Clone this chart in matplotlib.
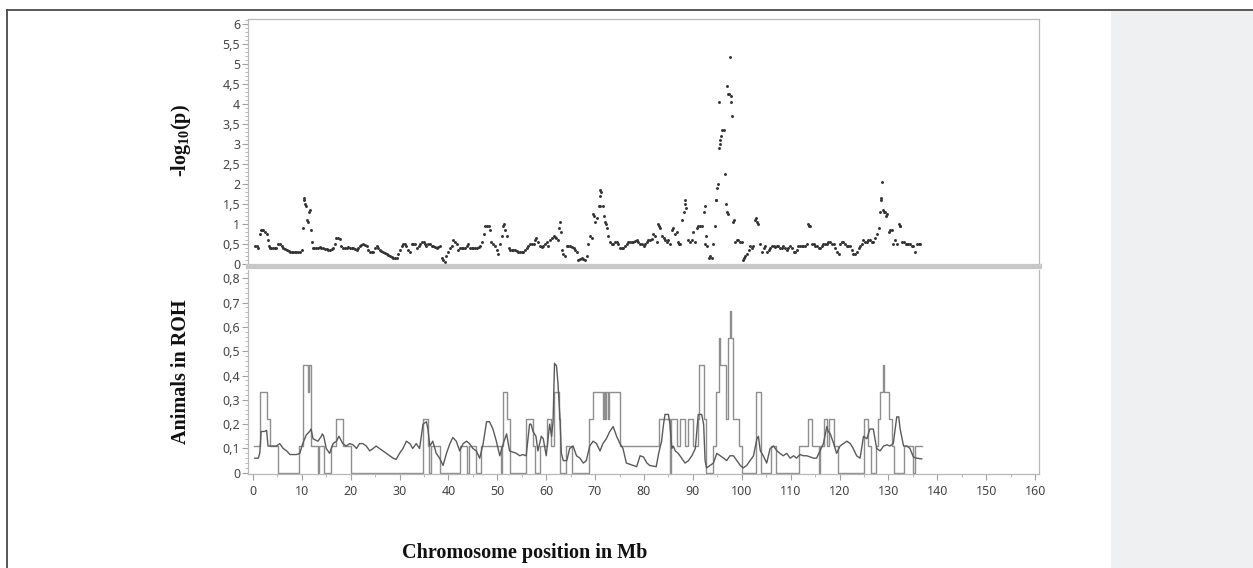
import matplotlib
matplotlib.use('Agg')
import matplotlib.pyplot as plt
from matplotlib.ticker import MultipleLocator, FuncFormatter
from matplotlib.lines import Line2D
from matplotlib.patches import Rectangle

plt.rcParams['mathtext.fontset'] = 'custom'
plt.rcParams['mathtext.rm'] = 'Liberation Serif:bold'
plt.rcParams['mathtext.it'] = 'Liberation Serif:bold'
plt.rcParams['mathtext.bf'] = 'Liberation Serif:bold'

# ---------------- data ----------------
gwas_pos = [
    0.4, 0.8, 1.1, 1.4, 1.6, 1.8, 2.1, 2.5, 2.8, 3.0,
    3.3, 3.5, 3.8, 4.2, 4.5, 4.8, 5.2, 5.5, 5.9, 6.2,
    6.6, 6.9, 7.3, 7.6, 8.0, 8.3, 8.6, 8.9, 9.3, 9.6,
    10.0, 10.2, 10.4, 10.5, 10.6, 10.8, 11.0, 11.3, 11.5, 11.7,
    11.9, 12.0, 12.3, 12.6, 13.0, 13.3, 13.7, 14.0, 14.4, 14.7,
    15.1, 15.4, 15.8, 16.1, 16.4, 16.8, 17.1, 17.4, 17.8, 18.1,
    18.5, 18.8, 19.2, 19.5, 19.9, 20.2, 20.5, 20.9, 21.2, 21.5,
    21.9, 22.2, 22.6, 22.9, 23.3, 23.6, 23.9, 24.3, 24.6, 24.9,
    25.3, 25.6, 26.0, 26.3, 26.7, 27.0, 27.4, 27.7, 28.0, 28.4,
    28.7, 29.0, 29.4, 29.7, 30.1, 30.4, 30.8, 31.1, 31.4, 31.8,
    32.1, 32.5, 32.8, 33.2, 33.5, 33.9, 34.2, 34.5, 34.9, 35.2,
    35.5, 35.9, 36.2, 36.6, 36.9, 37.2, 37.6, 37.9, 38.3, 38.6,
    38.9, 39.3, 39.6, 40.0, 40.3, 40.7, 41.0, 41.3, 41.7, 42.0,
    42.4, 42.7, 43.0, 43.4, 43.7, 44.1, 44.4, 44.8, 45.1, 45.5,
    45.8, 46.2, 46.5, 46.8, 47.3, 47.5, 47.9, 48.2, 48.5, 48.8,
    49.2, 49.5, 49.9, 50.2, 50.5, 50.9, 51.2, 51.4, 51.6, 51.9,
    52.3, 52.6, 53.0, 53.3, 53.6, 54.0, 54.3, 54.6, 55.0, 55.3,
    55.6, 56.0, 56.3, 56.7, 57.0, 57.4, 57.7, 58.0, 58.4, 58.7,
    59.1, 59.4, 59.8, 60.1, 60.4, 60.8, 61.1, 61.5, 61.8, 62.1,
    62.5, 62.7, 62.8, 63.0, 63.2, 63.5, 63.8, 64.2, 64.5, 64.9,
    65.2, 65.6, 65.9, 66.2, 66.6, 66.9, 67.3, 67.6, 67.9, 68.3,
    68.6, 69.0, 69.3, 69.6, 69.8, 70.0, 70.3, 70.7, 70.9, 71.0,
    71.1, 71.3, 71.6, 71.8, 72.0, 72.2, 72.4, 72.7, 73.1, 73.4,
    73.7, 74.0, 74.4, 74.7, 75.1, 75.4, 75.8, 76.1, 76.5, 76.8,
    77.1, 77.5, 77.8, 78.2, 78.5, 78.8, 79.2, 79.5, 79.9, 80.3,
    80.6, 80.9, 81.2, 81.6, 81.9, 82.3, 82.6, 82.9, 83.1, 83.3,
    83.7, 84.0, 84.4, 84.7, 85.0, 85.3, 85.7, 86.0, 86.4, 86.7,
    87.0, 87.2, 87.4, 87.7, 88.1, 88.3, 88.4, 88.6, 89.1, 89.4,
    89.8, 90.1, 90.5, 90.8, 91.1, 91.5, 91.8, 92.2, 92.4, 92.5,
    92.6, 92.8, 93.2, 93.5, 93.9, 94.2, 94.5, 94.7, 94.8, 95.0,
    95.1, 95.3, 95.4, 95.5, 95.6, 95.8, 96.0, 96.3, 96.6, 96.7,
    96.9, 97.0, 97.1, 97.2, 97.4, 97.6, 97.7, 97.9, 98.0, 98.3,
    98.4, 98.6, 99.0, 99.3, 99.7, 100.0, 100.3, 100.5, 100.7, 101.0,
    101.4, 101.7, 102.0, 102.4, 102.7, 102.9, 103.1, 103.4, 103.8, 104.1,
    104.5, 104.8, 105.1, 105.5, 105.8, 106.1, 106.5, 106.8, 107.2, 107.5,
    107.8, 108.2, 108.5, 108.9, 109.2, 109.5, 109.9, 110.2, 110.6, 110.9,
    111.2, 111.6, 111.9, 112.3, 112.6, 112.9, 113.3, 113.6, 113.8, 114.0,
    114.3, 114.7, 115.0, 115.3, 115.7, 116.0, 116.4, 116.7, 117.0, 117.4,
    117.7, 118.1, 118.4, 118.8, 119.1, 119.4, 119.8, 120.1, 120.5, 120.8,
    121.1, 121.5, 121.8, 122.2, 122.5, 122.8, 123.2, 123.5, 123.9, 124.2,
    124.5, 124.9, 125.2, 125.6, 125.9, 126.2, 126.6, 126.9, 127.3, 127.6,
    128.0, 128.2, 128.4, 128.5, 128.6, 128.9, 129.1, 129.3, 129.5, 129.8,
    130.2, 130.4, 130.7, 131.0, 131.4, 131.7, 132.1, 132.3, 132.4, 132.8,
    133.1, 133.5, 133.8, 134.1, 134.4, 134.8, 135.1, 135.5, 135.8, 136.2,
    136.5,
]
gwas_logp = [
    0.45, 0.45, 0.4, 0.75, 0.85, 0.85, 0.85, 0.8, 0.75, 0.6,
    0.45, 0.4, 0.4, 0.4, 0.4, 0.4, 0.5, 0.5, 0.45, 0.4,
    0.38, 0.35, 0.32, 0.3, 0.3, 0.3, 0.3, 0.3, 0.3, 0.3,
    0.35, 0.9, 1.6, 1.65, 1.5, 1.45, 1.1, 1.05, 1.3, 1.35,
    0.85, 0.55, 0.4, 0.4, 0.4, 0.4, 0.42, 0.4, 0.4, 0.38,
    0.38, 0.35, 0.35, 0.38, 0.4, 0.5, 0.65, 0.65, 0.62, 0.45,
    0.4, 0.4, 0.4, 0.42, 0.4, 0.4, 0.4, 0.37, 0.35, 0.4,
    0.45, 0.48, 0.5, 0.48, 0.45, 0.35, 0.3, 0.3, 0.3, 0.4,
    0.45, 0.4, 0.35, 0.32, 0.3, 0.28, 0.25, 0.22, 0.2, 0.18,
    0.15, 0.15, 0.15, 0.25, 0.35, 0.45, 0.5, 0.5, 0.45, 0.35,
    0.3, 0.5, 0.5, 0.5, 0.4, 0.45, 0.5, 0.55, 0.55, 0.5,
    0.45, 0.5, 0.5, 0.45, 0.45, 0.42, 0.4, 0.42, 0.45, 0.15,
    0.1, 0.05, 0.2, 0.3, 0.4, 0.45, 0.6, 0.55, 0.5, 0.35,
    0.4, 0.4, 0.4, 0.4, 0.45, 0.5, 0.4, 0.4, 0.4, 0.4,
    0.4, 0.42, 0.45, 0.55, 0.75, 0.95, 0.95, 0.95, 0.85, 0.55,
    0.5, 0.45, 0.35, 0.25, 0.5, 0.7, 0.95, 1.0, 0.85, 0.7,
    0.4, 0.35, 0.35, 0.35, 0.35, 0.32, 0.3, 0.3, 0.3, 0.3,
    0.35, 0.4, 0.45, 0.5, 0.5, 0.5, 0.6, 0.65, 0.55, 0.45,
    0.42, 0.45, 0.5, 0.55, 0.45, 0.6, 0.65, 0.7, 0.68, 0.65,
    0.6, 0.9, 1.05, 0.8, 0.35, 0.25, 0.2, 0.45, 0.45, 0.45,
    0.42, 0.4, 0.35, 0.3, 0.1, 0.12, 0.15, 0.12, 0.1, 0.2,
    0.5, 0.7, 0.65, 1.25, 1.2, 1.05, 1.15, 1.45, 1.45, 1.7,
    1.85, 1.8, 1.45, 1.2, 1.05, 1.0, 0.9, 0.7, 0.55, 0.5,
    0.5, 0.55, 0.55, 0.5, 0.4, 0.4, 0.4, 0.45, 0.5, 0.55,
    0.55, 0.55, 0.55, 0.58, 0.6, 0.55, 0.5, 0.5, 0.45, 0.5,
    0.55, 0.6, 0.6, 0.62, 0.75, 0.7, 0.55, 1.0, 0.95, 0.9,
    0.7, 0.65, 0.6, 0.55, 0.6, 0.5, 0.85, 0.9, 0.75, 0.8,
    0.55, 0.5, 0.5, 1.1, 1.3, 1.5, 1.6, 1.4, 0.6, 0.55,
    0.6, 0.8, 0.55, 0.9, 0.95, 0.95, 0.95, 1.3, 1.45, 0.5,
    0.7, 0.45, 0.15, 0.2, 0.15, 0.5, 0.95, 1.6, 1.6, 1.9,
    2.0, 4.05, 2.9, 3.0, 3.1, 3.2, 3.35, 3.35, 2.25, 1.5,
    4.45, 1.3, 1.25, 4.25, 4.25, 5.18, 4.2, 4.05, 3.7, 1.05,
    1.1, 0.55, 0.6, 0.6, 0.55, 0.55, 0.1, 0.15, 0.2, 0.25,
    0.35, 0.45, 0.4, 0.45, 1.1, 1.15, 1.05, 1.0, 0.5, 0.3,
    0.4, 0.45, 0.3, 0.35, 0.4, 0.45, 0.45, 0.42, 0.45, 0.45,
    0.4, 0.4, 0.45, 0.4, 0.35, 0.4, 0.45, 0.4, 0.3, 0.3,
    0.35, 0.45, 0.45, 0.45, 0.45, 0.45, 0.5, 1.0, 0.95, 0.95,
    0.5, 0.5, 0.45, 0.45, 0.4, 0.4, 0.45, 0.5, 0.5, 0.5,
    0.55, 0.55, 0.5, 0.5, 0.4, 0.3, 0.25, 0.5, 0.55, 0.55,
    0.5, 0.45, 0.45, 0.45, 0.35, 0.25, 0.25, 0.3, 0.4, 0.45,
    0.5, 0.6, 0.55, 0.55, 0.6, 0.6, 0.55, 0.55, 0.65, 0.75,
    0.9, 1.3, 1.65, 1.6, 2.05, 1.35, 1.3, 1.3, 1.2, 1.25,
    0.8, 0.85, 0.85, 0.5, 0.6, 0.5, 1.0, 0.95, 0.95, 0.55,
    0.55, 0.5, 0.5, 0.5, 0.5, 0.45, 0.45, 0.3, 0.5, 0.5,
    0.5,
]

# proportion of animals in ROH, population with step-wise values
roh_step_pos = [
    0.3, 1.5, 2.9, 3.4, 5.1, 9.5, 10.2, 11.2, 11.4, 11.9,
    13.3, 13.5, 14.5, 16.0, 17.1, 18.4, 20.1, 34.7, 35.9, 36.1,
    36.5, 38.3, 42.3, 43.8, 44.3, 45.7, 46.7, 50.7, 50.9, 51.2,
    52.0, 52.5, 55.9, 57.3, 57.8, 58.7, 60.2, 61.0, 61.5, 62.6,
    62.9, 64.1, 65.2, 68.7, 69.5, 71.6, 71.8, 72.1, 72.3, 72.6,
    72.9, 75.0, 83.1, 85.4, 85.6, 86.8, 87.3, 88.4, 89.0,
    90.1, 91.0, 91.3, 92.3, 92.7, 94.2, 94.7, 95.3, 95.5, 96.7,
    97.2, 97.6, 97.8, 98.3, 99.4, 100.0, 102.9, 103.9, 105.9, 107.1,
    111.8, 113.6, 114.3, 115.8, 116.0, 116.8, 117.4, 117.9, 118.9, 119.6,
    125.0, 125.9, 126.4, 127.5, 127.8, 128.3, 128.8, 129.1, 130.2, 130.7,
    131.2, 133.1, 135.1, 135.5, 136.8,
]
roh_step_val = [
    0.111, 0.333, 0.222, 0.111, 0.0, 0.111, 0.444, 0.333, 0.444, 0.111,
    0.0, 0.111, 0.0, 0.111, 0.222, 0.111, 0.0, 0.222, 0.111, 0.0,
    0.111, 0.0, 0.111, 0.0, 0.111, 0.0, 0.111, 0.0, 0.111, 0.333,
    0.222, 0.0, 0.222, 0.111, 0.0, 0.111, 0.222, 0.111, 0.333, 0.222,
    0.0, 0.111, 0.0, 0.222, 0.333, 0.222, 0.333, 0.222, 0.333, 0.222,
    0.333, 0.111, 0.222, 0.0, 0.222, 0.111, 0.222, 0.111, 0.222,
    0.111, 0.222, 0.444, 0.222, 0.0, 0.111, 0.333, 0.556, 0.444, 0.222,
    0.556, 0.667, 0.556, 0.222, 0.111, 0.0, 0.333, 0.0, 0.111, 0.0,
    0.111, 0.222, 0.111, 0.0, 0.111, 0.222, 0.111, 0.222, 0.111, 0.0,
    0.222, 0.111, 0.0, 0.111, 0.222, 0.333, 0.444, 0.333, 0.222, 0.111,
    0.0, 0.111, 0.0, 0.111, 0.111,
]

# proportion of animals in ROH, population with smooth values
roh_smooth_pos = [
    0.4, 1.1, 1.4, 1.7, 2.4, 2.8, 3.1, 4.1, 4.8, 5.5,
    6.2, 6.9, 7.6, 8.9, 9.6, 10.2, 10.9, 11.6, 11.9, 12.3,
    13.3, 14.0, 14.2, 14.5, 15.0, 15.7, 16.4, 17.1, 17.6, 18.4,
    19.1, 19.8, 20.5, 21.2, 21.8, 22.5, 23.2, 23.9, 24.6, 25.2,
    25.9, 26.6, 27.3, 28.0, 28.7, 29.3, 30.0, 30.7, 31.4, 32.1,
    32.7, 33.4, 34.1, 34.8, 35.5, 35.8, 36.2, 36.8, 37.5, 38.2,
    38.9, 39.6, 40.3, 40.9, 41.6, 42.3, 43.0, 43.7, 44.3, 45.0,
    45.7, 46.4, 47.1, 47.8, 48.4, 49.1, 49.8, 50.5, 51.2, 51.9,
    52.5, 53.2, 53.9, 54.6, 55.2, 55.9, 56.6, 56.9, 57.3, 57.9,
    58.3, 59.0, 59.4, 60.0, 60.7, 61.1, 61.4, 61.7, 62.1, 62.4,
    62.8, 63.1, 63.5, 64.2, 64.8, 65.5, 66.2, 66.9, 67.6, 68.2,
    68.9, 69.6, 70.3, 71.0, 71.6, 72.3, 73.0, 73.7, 74.4, 75.1,
    75.7, 76.4, 77.1, 77.8, 78.5, 79.2, 79.9, 80.6, 81.2, 82.5,
    83.0, 83.6, 84.0, 84.3, 85.0, 85.3, 85.7, 86.0, 86.4, 87.0,
    87.7, 88.4, 89.1, 89.8, 90.5, 91.1, 91.8, 92.2, 92.5, 92.8,
    93.5, 94.2, 94.9, 95.6, 96.3, 96.9, 97.6, 98.3, 99.0, 99.7,
    100.3, 101.0, 101.7, 102.4, 103.1, 103.4, 103.8, 104.4, 105.1, 105.8,
    106.5, 107.2, 107.8, 108.5, 109.2, 109.9, 110.6, 111.2, 111.9, 112.6,
    113.3, 114.0, 114.7, 115.3, 116.0, 116.7, 117.4, 117.7, 118.1, 118.8,
    119.4, 120.1, 120.8, 121.5, 122.2, 122.8, 123.5, 124.2, 124.9, 125.6,
    126.2, 126.9, 127.6, 128.3, 129.0, 129.7, 130.3, 131.0, 131.7, 132.1,
    132.4, 133.1, 133.8, 134.4, 135.1, 135.8, 136.8,
]
roh_smooth_val = [
    0.06, 0.06, 0.08, 0.17, 0.17, 0.175, 0.11, 0.11, 0.11, 0.12,
    0.10, 0.09, 0.075, 0.075, 0.08, 0.12, 0.155, 0.17, 0.18, 0.14,
    0.13, 0.15, 0.16, 0.15, 0.10, 0.08, 0.12, 0.13, 0.15, 0.12,
    0.11, 0.12, 0.115, 0.10, 0.12, 0.12, 0.11, 0.09, 0.10, 0.11,
    0.10, 0.09, 0.08, 0.07, 0.06, 0.055, 0.08, 0.10, 0.13, 0.12,
    0.10, 0.12, 0.10, 0.20, 0.21, 0.18, 0.11, 0.13, 0.08, 0.06,
    0.03, 0.08, 0.12, 0.145, 0.13, 0.09, 0.12, 0.13, 0.12, 0.10,
    0.09, 0.06, 0.12, 0.21, 0.21, 0.18, 0.13, 0.07, 0.12, 0.16,
    0.09, 0.085, 0.08, 0.07, 0.075, 0.07, 0.20, 0.20, 0.17, 0.15,
    0.09, 0.15, 0.14, 0.07, 0.20, 0.15, 0.21, 0.45, 0.44, 0.37,
    0.23, 0.08, 0.05, 0.05, 0.10, 0.11, 0.07, 0.06, 0.04, 0.05,
    0.11, 0.13, 0.12, 0.09, 0.12, 0.14, 0.17, 0.19, 0.15, 0.12,
    0.10, 0.04, 0.035, 0.03, 0.025, 0.07, 0.065, 0.04, 0.03, 0.025,
    0.08, 0.13, 0.20, 0.24, 0.24, 0.20, 0.10, 0.11, 0.09, 0.08,
    0.06, 0.04, 0.05, 0.07, 0.10, 0.24, 0.24, 0.20, 0.05, 0.02,
    0.03, 0.04, 0.08, 0.07, 0.06, 0.05, 0.07, 0.07, 0.05, 0.03,
    0.02, 0.03, 0.05, 0.07, 0.14, 0.15, 0.09, 0.07, 0.04, 0.10,
    0.11, 0.09, 0.08, 0.07, 0.08, 0.06, 0.07, 0.06, 0.075, 0.07,
    0.07, 0.065, 0.06, 0.06, 0.09, 0.12, 0.19, 0.17, 0.16, 0.12,
    0.08, 0.11, 0.12, 0.13, 0.12, 0.10, 0.07, 0.06, 0.15, 0.14,
    0.18, 0.18, 0.10, 0.09, 0.11, 0.115, 0.11, 0.12, 0.23, 0.23,
    0.18, 0.11, 0.11, 0.10, 0.065, 0.06, 0.057,
]

x_ticks = list(range(0, 161, 10))
top_y_ticks = [0, 0.5, 1, 1.5, 2, 2.5, 3, 3.5, 4, 4.5, 5, 5.5, 6]
bottom_y_ticks = [0, 0.1, 0.2, 0.3, 0.4, 0.5, 0.6, 0.7, 0.8]

# ---------------- figure ----------------
W, H = 1253, 568
fig = plt.figure(figsize=(W / 100, H / 100), dpi=100)
fig.patch.set_facecolor('white')

def fx(px):
    return px / W

def fy(py):
    return 1 - py / H

# right grey panel and frame
fig.add_artist(Rectangle((fx(1111), 0), 1 - fx(1111), fy(11), transform=fig.transFigure,
                         facecolor='#eff0f2', edgecolor='none', zorder=0))
fig.add_artist(Line2D([fx(7), 1], [fy(10), fy(10)], transform=fig.transFigure,
                      color='#4a4a4a', lw=1.3))
fig.add_artist(Line2D([fx(7), fx(7)], [0, fy(10)], transform=fig.transFigure,
                      color='#4a4a4a', lw=1.3))

L, R = 248, 1039
ax1 = fig.add_axes([fx(L), fy(266), fx(R - L), fy(19) - fy(266)])
ax2 = fig.add_axes([fx(L), fy(474), fx(R - L), fy(270) - fy(474)])

tick_color = '#444444'
spine_color = '#b8b8b8'

def comma_fmt(v, pos):
    s = ('%.1f' % v).rstrip('0').rstrip('.')
    if s == '-0':
        s = '0'
    return s.replace('.', ',')

for ax in (ax1, ax2):
    ax.set_xlim(-1.0, 160.8)
    for sp in ax.spines.values():
        sp.set_color(spine_color)
        sp.set_linewidth(0.9)
    ax.tick_params(axis='both', which='major', length=4, width=0.8, color='#a0a0a0',
                   labelcolor=tick_color, labelsize=9, pad=1.5)
    ax.tick_params(axis='both', which='minor', length=2, width=0.6, color='#b0b0b0')
    ax.yaxis.set_major_formatter(FuncFormatter(comma_fmt))

# top: scatter
ax1.scatter(gwas_pos, gwas_logp, s=4.5, marker='o', color='#333333', linewidths=0)
ax1.set_ylim(-0.05, 6.125)
ax1.set_yticks(top_y_ticks)
ax1.yaxis.set_minor_locator(MultipleLocator(0.1))
ax1.set_xticks([])
ax1.spines['bottom'].set_color('#c8c8c8')
ax1.spines['bottom'].set_linewidth(3.8)

# bottom: ROH lines
ax2.step(roh_step_pos, roh_step_val, where='post', color='#8e8e8e', lw=1.0)
ax2.plot(roh_smooth_pos, roh_smooth_val, color='#5a5a5a', lw=1.0)
ax2.set_ylim(-0.005, 0.834)
ax2.set_yticks(bottom_y_ticks)
ax2.yaxis.set_minor_locator(MultipleLocator(0.02))
ax2.set_xticks(x_ticks)
ax2.xaxis.set_minor_locator(MultipleLocator(5))
ax2.xaxis.set_major_formatter(FuncFormatter(lambda v, p: '%d' % v))
ax2.tick_params(axis='x', which='major', pad=4)
ax2.spines['top'].set_visible(False)

for ax in (ax1, ax2):
    for lab in ax.get_yticklabels() + ax.get_xticklabels():
        lab.set_fontfamily('Noto Sans')

# axis titles
serif_bold = dict(family='Liberation Serif', weight='bold', size=14.5, color='#111111')
fig.text(fx(181), fy(141), '-log$_{10}$(p)', rotation=90, ha='center', va='center',
         **serif_bold)
fig.text(fx(181), fy(372), 'Animals in ROH', rotation=90, ha='center', va='center',
         **serif_bold)
fig.text(fx(525), fy(553), 'Chromosome position in Mb', ha='center', va='center',
         **serif_bold)

fig.savefig('out.png', dpi=100)
